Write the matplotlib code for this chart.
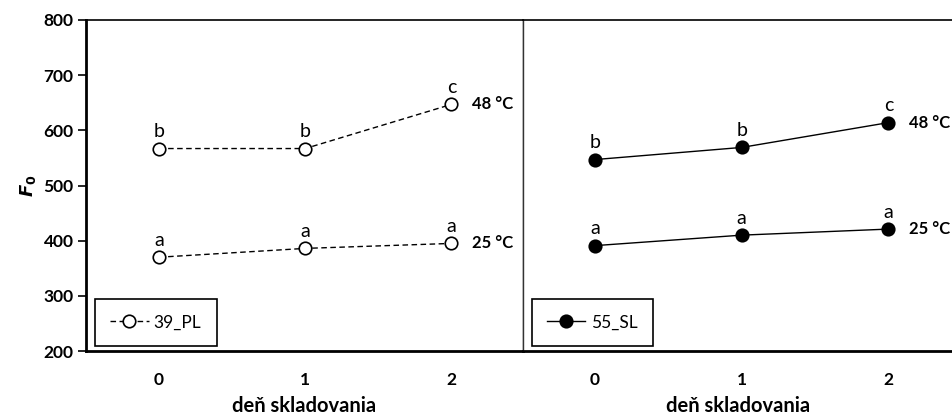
import matplotlib
matplotlib.use("Agg")
import matplotlib.pyplot as plt

plt.rcParams['font.family'] = ['Lato', 'DejaVu Sans']

# storage days and F0 values for both samples
days = [0, 1, 2]
pl_48 = [567, 567, 647]
pl_25 = [370, 386, 395]
sl_48 = [547, 569, 614]
sl_25 = [391, 410, 421]
pl_48_letters = ['b', 'b', 'c']
pl_25_letters = ['a', 'a', 'a']
sl_48_letters = ['b', 'b', 'c']
sl_25_letters = ['a', 'a', 'a']
temps = ['48 °C', '25 °C']

fig = plt.figure(figsize=(9.53, 4.18), dpi=100)
ax1 = fig.add_axes([86/953, 67/418, 437/953, 331/418])
ax2 = fig.add_axes([523/953, 67/418, 430/953, 331/418])


def draw(ax, s48, s25, l48, l25, ls, face, label):
    dash = (4, 2.5) if ls == '--' else (None, None)
    ax.plot(days, s48, ls=ls, color='black', lw=1, marker='o', ms=9,
            mfc=face, mec='black', mew=1.2, dashes=dash, label=label)
    ax.plot(days, s25, ls=ls, color='black', lw=1, marker='o', ms=9,
            mfc=face, mec='black', mew=1.2, dashes=dash)
    for x, y, t in zip(days, s48, l48):
        ax.annotate(t, (x, y), xytext=(0, 6), textcoords='offset points',
                    ha='center', va='bottom', fontsize=14)
    for x, y, t in zip(days, s25, l25):
        ax.annotate(t, (x, y), xytext=(0, 6), textcoords='offset points',
                    ha='center', va='bottom', fontsize=14)
    ax.annotate(temps[0], (days[-1], s48[-1]), xytext=(15, 0), textcoords='offset points',
                ha='left', va='center', fontsize=12, fontweight='bold')
    ax.annotate(temps[1], (days[-1], s25[-1]), xytext=(15, 0), textcoords='offset points',
                ha='left', va='center', fontsize=12, fontweight='bold')
    ax.set_ylim(200, 800)
    ax.set_xticks(days)
    ax.set_xticklabels([str(d) for d in days], fontsize=12.5, fontweight='bold')
    ax.tick_params(axis='x', length=0, pad=15)
    ax.set_xlabel('deň skladovania', fontsize=14.5, fontweight='bold', labelpad=6)
    leg = ax.legend(loc='lower left', bbox_to_anchor=(0.02, 0.015), fontsize=12.5,
                    fancybox=False, edgecolor='black', framealpha=1,
                    handlelength=2.2, borderpad=0.9, handletextpad=0.3,
                    borderaxespad=0)
    leg.get_frame().set_linewidth(1.2)


draw(ax1, pl_48, pl_25, pl_48_letters, pl_25_letters, '--', 'white', '39_PL')
draw(ax2, sl_48, sl_25, sl_48_letters, sl_25_letters, '-', 'black', '55_SL')

ax1.set_xlim(-0.5, 2.49)
ax2.set_xlim(-0.49, 2.44)

ax1.set_yticks(range(200, 801, 100))
ax1.set_yticklabels([str(v) for v in range(200, 801, 100)], fontsize=12.5, fontweight='bold')
ax1.tick_params(axis='y', direction='out', length=6, width=1.2, pad=3)
ax1.set_ylabel(r'$\mathbfit{F}_\mathbf{0}$', fontsize=13, labelpad=4)

ax2.set_yticks([])

for sp in ['left', 'bottom']:
    ax1.spines[sp].set_linewidth(2)
ax1.spines['top'].set_linewidth(1.2)
ax1.spines['right'].set_linewidth(1)
ax1.spines['right'].set_color('#333333')
ax2.spines['left'].set_linewidth(1)
ax2.spines['left'].set_color('#333333')
ax2.spines['bottom'].set_linewidth(2)
ax2.spines['top'].set_linewidth(1.2)
ax2.spines['right'].set_visible(False)

fig.savefig('out.png', dpi=100)
